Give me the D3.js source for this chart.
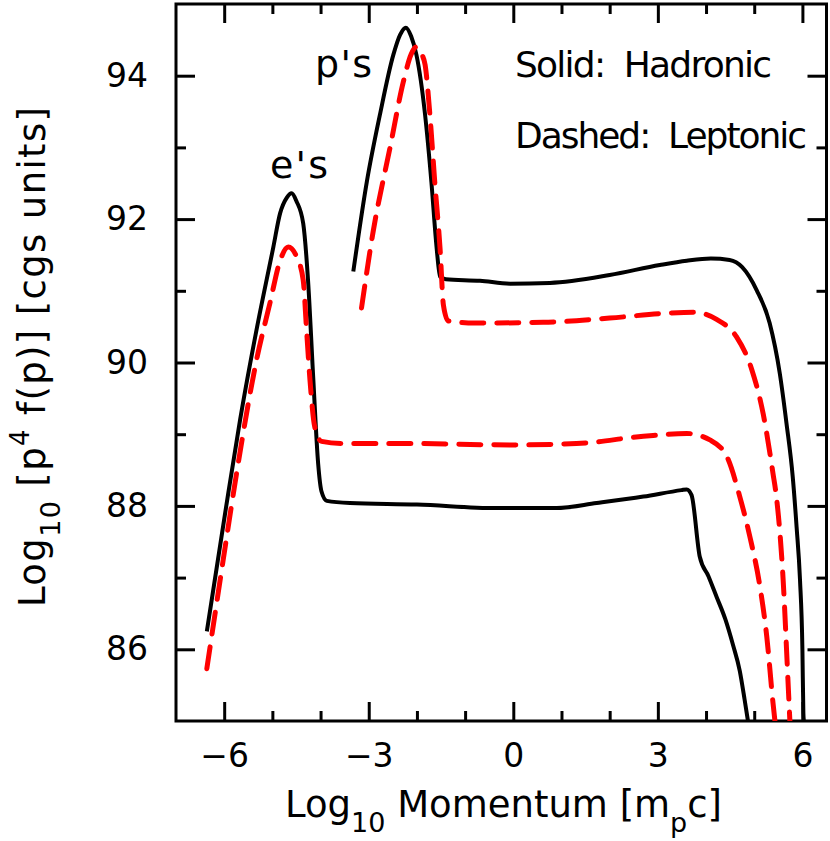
<!DOCTYPE html>
<html>
<head>
<meta charset="utf-8">
<script src="https://cdn.jsdelivr.net/npm/d3@7"></script>
<style>
  body { margin: 0; background: #fff; }
  text { font-family: "DejaVu Sans", sans-serif; white-space: pre; }
</style>
</head>
<body>
<svg id="chart"></svg>
<script>
//Base SVG values
let width = 830
let height = 841

let plot = { left: 176, right: 826.5, top: 4, bottom: 721 }

//Axis ranges and ticks
let xDomain = [-7, 6.5]
let yDomain = [85, 95]
let xMajor = [-6, -3, 0, 3, 6]
let xMinor = [-5, -4, -2, -1, 1, 2, 4, 5]
let yMajor = [86, 88, 90, 92, 94]
let yMinor = [87, 89, 91, 93]

//Curves: [log10 p, log10 p^4 f(p)]
let electronsHadronic = [
  [-6.36, 86.25], [-5.98, 87.90], [-5.67, 89.20], [-5.33, 90.45], [-4.98, 91.61],
  [-4.84, 92.08], [-4.70, 92.30], [-4.60, 92.36], [-4.50, 92.25], [-4.36, 91.94],
  [-4.26, 91.15], [-4.15, 89.76], [-4.05, 88.59], [-3.98, 88.20], [-3.87, 88.07],
  [-3.39, 88.04], [-2.00, 88.02], [-0.35, 87.97], [0.90, 87.97], [1.73, 88.04],
  [2.70, 88.13], [3.49, 88.22], [3.60, 88.23], [3.70, 88.15], [3.87, 87.29],
  [4.05, 87.02], [4.22, 86.73], [4.40, 86.42], [4.56, 86.06], [4.70, 85.70],
  [4.80, 85.30], [4.87, 85.00]
]

let protonsHadronic = [
  [-3.32, 91.27], [-3.04, 92.52], [-2.77, 93.45], [-2.49, 94.29], [-2.35, 94.57],
  [-2.23, 94.67], [-2.12, 94.55], [-2.01, 94.29], [-1.83, 93.45], [-1.70, 92.52],
  [-1.59, 91.59], [-1.52, 91.20], [-1.40, 91.16], [-0.69, 91.14], [-0.07, 91.10],
  [0.76, 91.11], [2.00, 91.22], [3.04, 91.36], [3.60, 91.42], [4.10, 91.45],
  [4.49, 91.43], [4.75, 91.33], [5.05, 91.01], [5.32, 90.55], [5.53, 89.85],
  [5.67, 89.15], [5.80, 88.40], [5.88, 87.70], [5.95, 86.97], [6.00, 86.00],
  [6.02, 85.11], [6.03, 85.00]
]

let electronsLeptonic = [
  [-6.36, 85.73], [-6.02, 87.25], [-5.72, 88.55], [-5.33, 90.03], [-5.05, 90.83],
  [-4.84, 91.42], [-4.67, 91.61], [-4.50, 91.48], [-4.36, 91.15], [-4.29, 90.45],
  [-4.22, 89.76], [-4.12, 89.10], [-3.98, 88.90], [-3.53, 88.87], [-2.15, 88.87],
  [-0.07, 88.85], [1.31, 88.87], [2.70, 88.97], [3.60, 89.01], [4.08, 88.92],
  [4.43, 88.69], [4.70, 88.13], [4.91, 87.57], [5.12, 86.87], [5.26, 86.18],
  [5.39, 85.25], [5.43, 85.00]
]

let protonsLeptonic = [
  [-3.15, 90.76], [-2.91, 91.82], [-2.56, 92.99], [-2.28, 93.92], [-2.12, 94.30],
  [-2.02, 94.40], [-1.90, 94.30], [-1.83, 94.15], [-1.73, 93.45], [-1.63, 92.52],
  [-1.52, 91.59], [-1.45, 90.80], [-1.35, 90.58], [-0.80, 90.55], [0.62, 90.56],
  [2.00, 90.62], [3.25, 90.69], [3.75, 90.70], [4.22, 90.60], [4.63, 90.36],
  [4.95, 89.90], [5.19, 89.27], [5.39, 88.45], [5.46, 88.13], [5.60, 86.97],
  [5.70, 85.57], [5.74, 85.00]
]

//Scales
let xScale = d3.scaleLinear()
  .domain(xDomain)
  .range([plot.left, plot.right])
let yScale = d3.scaleLinear()
  .domain(yDomain)
  .range([plot.bottom, plot.top])

let svg = d3.select("#chart")
  .attr("width", width)
  .attr("height", height)

//stretch a text to the width it has in the picture
function fitText(sel, target) {
  let node = sel.node()
  let w = node.getBBox().width
  let n = node.textContent.length
  sel.attr("letter-spacing", (target - w) / (n - 1))
}

function styleAxis(g, size) {
  g.select(".domain").remove()
  g.selectAll("line").attr("stroke-width", 3)
  g.attr("font-family", "DejaVu Sans, sans-serif").attr("font-size", size)
}

//Axes, ticks on all four sides pointing in
svg.append("g")
  .attr("transform", `translate(0,${plot.bottom})`)
  .call(d3.axisBottom(xScale).tickValues(xMajor).tickSize(-19).tickPadding(23))
  .call(g => styleAxis(g, 33))
svg.append("g")
  .attr("transform", `translate(0,${plot.bottom})`)
  .call(d3.axisBottom(xScale).tickValues(xMinor).tickSize(-10).tickFormat(""))
  .call(g => styleAxis(g, 33))
svg.append("g")
  .attr("transform", `translate(0,${plot.top})`)
  .call(d3.axisTop(xScale).tickValues(xMajor).tickSize(-19).tickFormat(""))
  .call(g => styleAxis(g, 33))
svg.append("g")
  .attr("transform", `translate(0,${plot.top})`)
  .call(d3.axisTop(xScale).tickValues(xMinor).tickSize(-10).tickFormat(""))
  .call(g => styleAxis(g, 33))

svg.append("g")
  .attr("transform", `translate(${plot.left},0)`)
  .call(d3.axisLeft(yScale).tickValues(yMajor).tickSize(-19).tickPadding(28))
  .call(g => styleAxis(g, 33))
svg.append("g")
  .attr("transform", `translate(${plot.left},0)`)
  .call(d3.axisLeft(yScale).tickValues(yMinor).tickSize(-10).tickFormat(""))
  .call(g => styleAxis(g, 33))
svg.append("g")
  .attr("transform", `translate(${plot.right},0)`)
  .call(d3.axisRight(yScale).tickValues(yMajor).tickSize(-19).tickFormat(""))
  .call(g => styleAxis(g, 33))
svg.append("g")
  .attr("transform", `translate(${plot.right},0)`)
  .call(d3.axisRight(yScale).tickValues(yMinor).tickSize(-10).tickFormat(""))
  .call(g => styleAxis(g, 33))

//Frame
svg.append("rect")
  .attr("x", plot.left)
  .attr("y", plot.top)
  .attr("width", plot.right - plot.left)
  .attr("height", plot.bottom - plot.top)
  .attr("fill", "none")
  .attr("stroke", "#000")
  .attr("stroke-width", 3)

//Curves
svg.append("clipPath")
  .attr("id", "clip")
  .append("rect")
    .attr("x", plot.left)
    .attr("y", plot.top)
    .attr("width", plot.right - plot.left)
    .attr("height", plot.bottom - plot.top)

let line = d3.line()
  .x(d => xScale(d[0]))
  .y(d => yScale(d[1]))
  .curve(d3.curveMonotoneX)

let curves = svg.append("g").attr("clip-path", "url(#clip)")

;[electronsHadronic, protonsHadronic].forEach(data => {
  curves.append("path")
    .attr("d", line(data))
    .attr("fill", "none")
    .attr("stroke", "#000")
    .attr("stroke-width", 4)
    .attr("stroke-linejoin", "round")
})

;[electronsLeptonic, protonsLeptonic].forEach(data => {
  curves.append("path")
    .attr("d", line(data))
    .attr("fill", "none")
    .attr("stroke", "#ff0000")
    .attr("stroke-width", 5)
    .attr("stroke-dasharray", "22,13")
    .attr("stroke-linecap", "round")
})

//Labels in the plot
let notes = [
  { text: "Solid:  Hadronic", x: 515, y: 77, size: 36, w: 257 },
  { text: "Dashed:  Leptonic", x: 515, y: 148, size: 36, w: 292 },
  { text: "e's", x: 270, y: 178, size: 38, w: 58 },
  { text: "p's", x: 315, y: 77, size: 38, w: 57 }
]
notes.forEach(n => {
  let t = svg.append("text")
    .attr("x", n.x)
    .attr("y", n.y)
    .attr("font-size", n.size)
    .text(n.text)
  fitText(t, n.w)
})

//Axis titles
let xTitle = svg.append("text")
  .attr("x", 285)
  .attr("y", 817)
  .attr("font-size", 37)
xTitle.append("tspan").text("Log")
xTitle.append("tspan").attr("dy", 15).attr("font-size", 27).text("10")
xTitle.append("tspan").attr("dy", -15).text(" Momentum [m")
xTitle.append("tspan").attr("dy", 15).attr("font-size", 27).text("p")
xTitle.append("tspan").attr("dy", -15).text("c]")
fitText(xTitle, 437)

let yTitle = svg.append("text")
  .attr("transform", "translate(45,607) rotate(-90)")
  .attr("font-size", 37)
yTitle.append("tspan").text("Log")
yTitle.append("tspan").attr("dy", 15).attr("font-size", 27).text("10")
yTitle.append("tspan").attr("dy", -15).text(" [p")
yTitle.append("tspan").attr("dy", -16).attr("font-size", 26).text("4")
yTitle.append("tspan").attr("dy", 16).text(" f(p)] [cgs units]")
fitText(yTitle, 500)
</script>
</body>
</html>
